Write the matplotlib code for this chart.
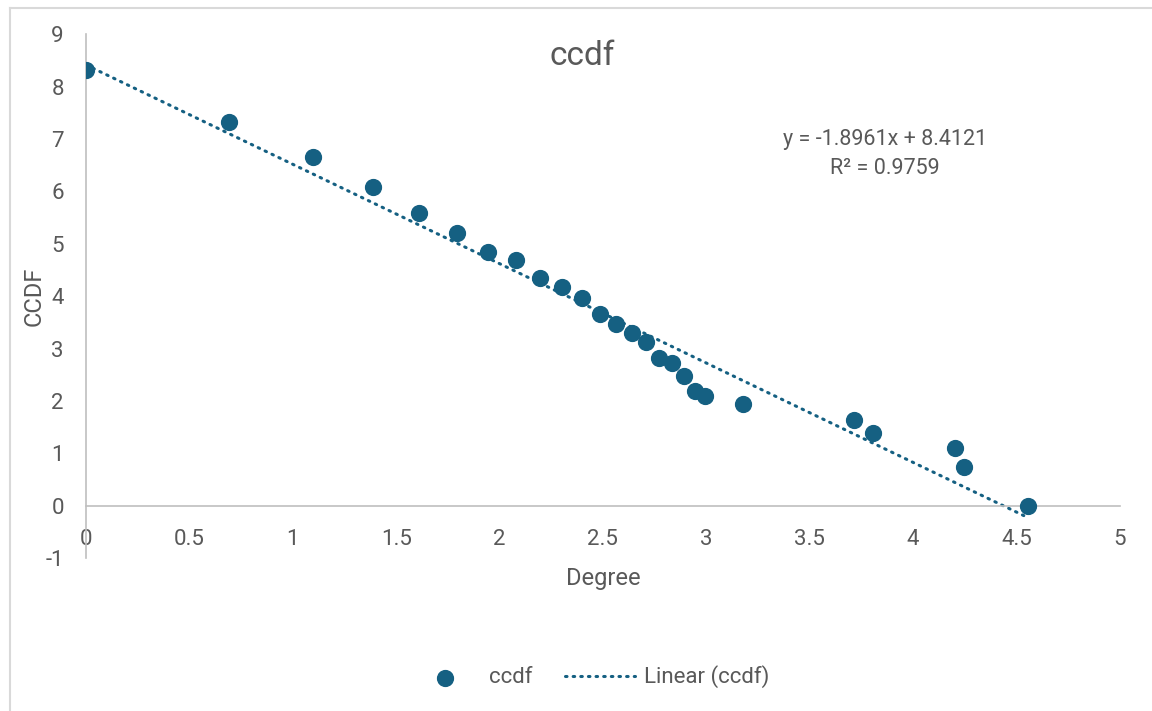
import matplotlib.pyplot as plt
import matplotlib.lines as mlines
import numpy as np

# Data (log degree vs log ccdf)
degree = [0.0, 0.693, 1.099, 1.386, 1.609, 1.792, 1.946, 2.079, 2.197, 2.303,
          2.398, 2.485, 2.565, 2.639, 2.708, 2.773, 2.833, 2.890, 2.944, 2.996,
          3.178, 3.714, 3.807, 4.205, 4.248, 4.554]
ccdf = [8.32, 7.33, 6.66, 6.09, 5.59, 5.21, 4.85, 4.68, 4.35, 4.18,
        3.97, 3.65, 3.47, 3.30, 3.13, 2.81, 2.73, 2.48, 2.19, 2.10,
        1.95, 1.64, 1.39, 1.11, 0.73, 0.00]
slope = -1.8961
intercept = 8.4121
r2 = 0.9759

COLOR = "#156082"
TEXT = "#595959"
AXIS = "#bfbfbf"

plt.rcParams["font.family"] = ["Roboto", "DejaVu Sans"]
plt.rcParams["axes.unicode_minus"] = False

fig = plt.figure(figsize=(11.52, 7.11), dpi=100)
ax = fig.add_axes([0.0747, 0.215, 0.972 - 0.0747, 0.952 - 0.215])

# chart area border (top + left visible)
fig.add_artist(mlines.Line2D([10 / 1152, 10 / 1152], [0, 1 - 8 / 711],
                             transform=fig.transFigure, color="#d9d9d9", lw=1.5))
fig.add_artist(mlines.Line2D([10 / 1152, 1], [1 - 8 / 711, 1 - 8 / 711],
                             transform=fig.transFigure, color="#d9d9d9", lw=1.5))

ax.scatter(degree, ccdf, s=130, color=COLOR, zorder=3, label="ccdf")

xs = np.array([min(degree), max(degree)])
ax.plot(xs, slope * xs + intercept, color=COLOR, lw=2.2, linestyle=(0, (0.5, 2.0)),
        dash_capstyle="round", zorder=2, label="Linear (ccdf)")

ax.set_xlim(0, 5)
ax.set_ylim(-1, 9)
ax.set_xticks(np.arange(0, 5.01, 0.5))
ax.set_xticklabels(["0", "0.5", "1", "1.5", "2", "2.5", "3", "3.5", "4", "4.5", "5"])
ax.set_yticks(range(-1, 10))

for s in ["top", "right"]:
    ax.spines[s].set_visible(False)
ax.spines["left"].set_position(("data", 0))
ax.spines["bottom"].set_position(("data", 0))
ax.spines["left"].set_color(AXIS)
ax.spines["bottom"].set_color(AXIS)
ax.spines["left"].set_linewidth(1.2)
ax.spines["bottom"].set_linewidth(1.2)
ax.tick_params(length=0, labelsize=16, colors=TEXT)
ax.tick_params(axis="y", pad=16)
ax.tick_params(axis="x", pad=17)

fig.text(0.505, 1 - 56 / 711, "ccdf", fontsize=24, color=TEXT, ha="center", va="center")
ax.set_xlabel("Degree", fontsize=17, color=TEXT)
ax.xaxis.set_label_coords(0.5, -0.017)
ax.set_ylabel("CCDF", fontsize=17, color=TEXT)
ax.yaxis.set_label_coords(-0.039, 0.5)

ax.text(3.864, 6.72, f"y = {slope}x + {intercept}\nR² = {r2}", fontsize=15.5,
        color=TEXT, ha="center", va="center", linespacing=1.5)

leg = fig.legend(loc="center", bbox_to_anchor=(0.512, 1 - 677 / 711), ncol=2,
                 frameon=False, fontsize=16, handlelength=3.15, columnspacing=1.45,
                 handletextpad=0.4)
for t in leg.get_texts():
    t.set_color(TEXT)

fig.savefig("out.png", dpi=100)
